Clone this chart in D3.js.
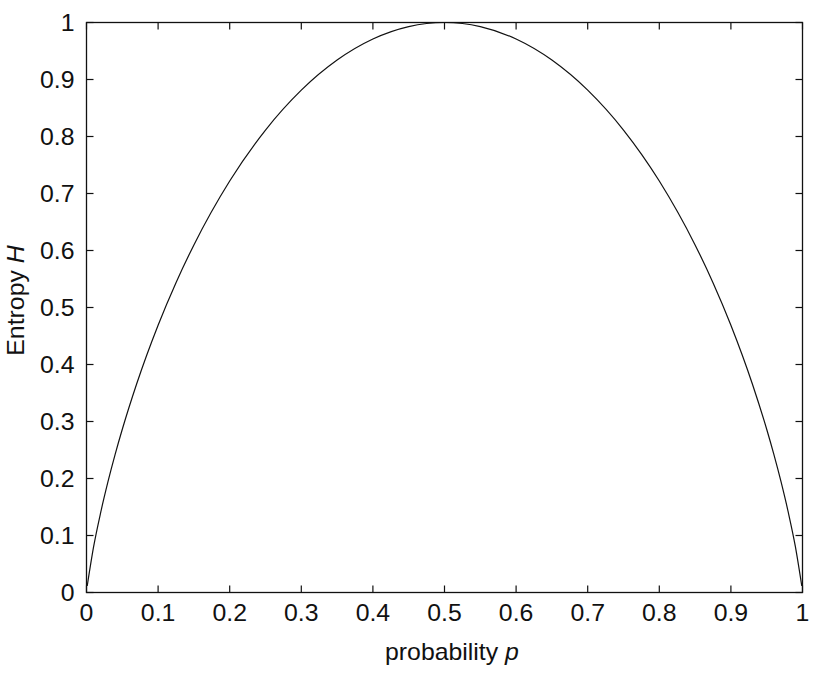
<!DOCTYPE html>
<html><head><meta charset="utf-8">
<script src="https://cdn.jsdelivr.net/npm/d3@7/dist/d3.min.js"></script>
<style>body{margin:0;background:#fff}svg{display:block}text{font-family:"Liberation Sans",Arial,sans-serif;fill:#111}</style>
</head><body><svg id="c" width="827" height="679"></svg>
<script>
const pValues = [0.001,0.01,0.02,0.03,0.04,0.05,0.07,0.1,0.125,0.15,0.2,0.25,0.3,0.35,0.4,0.45,0.5,0.55,0.6,0.65,0.7,0.75,0.8,0.85,0.875,0.9,0.93,0.95,0.96,0.97,0.98,0.99,0.999];
const hValues = [0.0114,0.0808,0.1414,0.1944,0.2423,0.2864,0.3659,0.4690,0.5436,0.6098,0.7219,0.8113,0.8813,0.9341,0.9710,0.9928,1.0,0.9928,0.9710,0.9341,0.8813,0.8113,0.7219,0.6098,0.5436,0.4690,0.3659,0.2864,0.2423,0.1944,0.1414,0.0808,0.0114];
const xTicks = [0,0.1,0.2,0.3,0.4,0.5,0.6,0.7,0.8,0.9,1];
const yTicks = [0,0.1,0.2,0.3,0.4,0.5,0.6,0.7,0.8,0.9,1];
const xTickLabels = ["0","0.1","0.2","0.3","0.4","0.5","0.6","0.7","0.8","0.9","1"];
const yTickLabels = ["0","0.1","0.2","0.3","0.4","0.5","0.6","0.7","0.8","0.9","1"];

const svg = d3.select("#c");
const L=86.5,R=802.5,T=22.5,B=592.5;
const x = d3.scaleLinear().domain([0,1]).range([L,R]);
const y = d3.scaleLinear().domain([0,1]).range([B,T]);
const fs = 23, sx = 1.08;
const g = svg.append("g");
// ticks (inward, mirrored)
xTicks.forEach(v=>{
  g.append("line").attr("x1",x(v)).attr("x2",x(v)).attr("y1",B).attr("y2",B-7).attr("stroke","#111").attr("stroke-width",1.2);
  g.append("line").attr("x1",x(v)).attr("x2",x(v)).attr("y1",T).attr("y2",T+7).attr("stroke","#111").attr("stroke-width",1.2);
});
yTicks.forEach(v=>{
  g.append("line").attr("y1",y(v)).attr("y2",y(v)).attr("x1",L).attr("x2",L+7).attr("stroke","#111").attr("stroke-width",1.2);
  g.append("line").attr("y1",y(v)).attr("y2",y(v)).attr("x1",R).attr("x2",R-7).attr("stroke","#111").attr("stroke-width",1.2);
});
xTicks.forEach((v,i)=>{
  g.append("text").attr("transform",`translate(${x(v)},${B+28.5}) scale(${sx},1)`).attr("text-anchor","middle").attr("font-size",fs).text(xTickLabels[i]);
});
yTicks.forEach((v,i)=>{
  g.append("text").attr("transform",`translate(${L-12},${y(v)+8.3}) scale(${sx},1)`).attr("text-anchor","end").attr("font-size",fs).text(yTickLabels[i]);
});
g.append("rect").attr("x",L).attr("y",T).attr("width",R-L).attr("height",B-T).attr("fill","none").attr("stroke","#111").attr("stroke-width",1.3);
const line = d3.line().x((d,i)=>x(pValues[i])).y(d=>y(d)).curve(d3.curveMonotoneX);
g.append("path").datum(hValues).attr("d",line).attr("fill","none").attr("stroke","#111").attr("stroke-width",1.2);
const xl = g.append("text").attr("transform",`translate(385,659.5) scale(${sx},1)`).attr("text-anchor","start").attr("font-size",fs);
xl.append("tspan").text("probability ");
xl.append("tspan").attr("font-style","italic").text("p");
const yl = g.append("text").attr("transform",`translate(24,300.5) rotate(-90) scale(${sx},1)`).attr("text-anchor","middle").attr("font-size",fs);
yl.append("tspan").text("Entropy ");
yl.append("tspan").attr("font-style","italic").text("H");
</script></body></html>
